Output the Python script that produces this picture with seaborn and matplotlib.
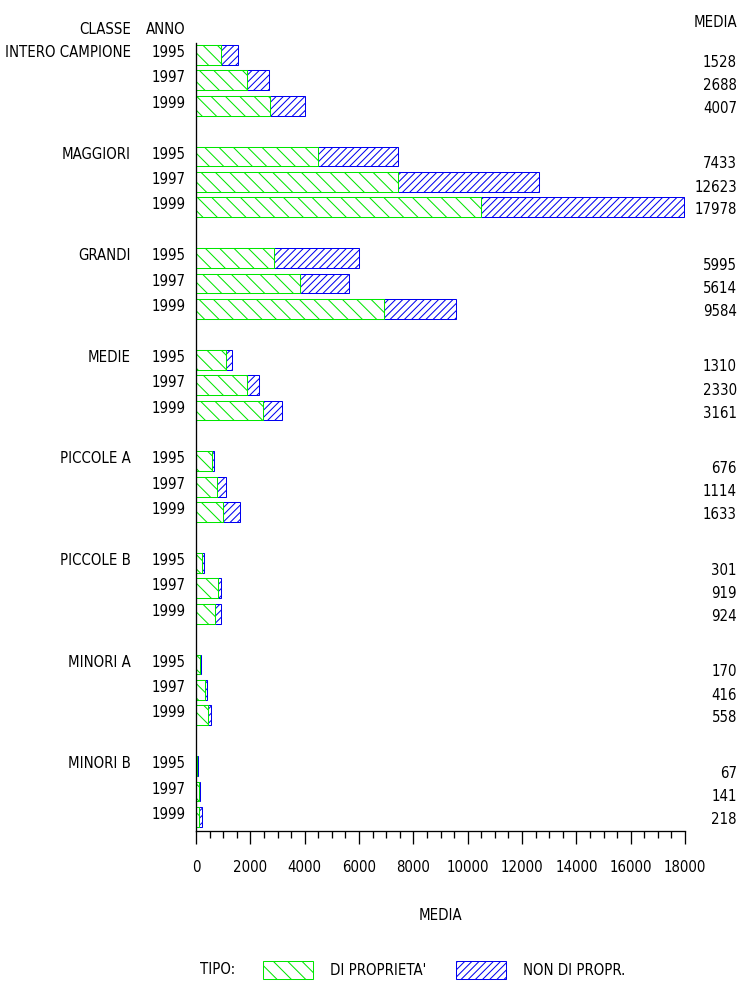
import numpy as np
import pandas as pd
import matplotlib
matplotlib.use('Agg')
import matplotlib.pyplot as plt
from matplotlib.ticker import MultipleLocator
import seaborn as sns

classes = ['INTERO CAMPIONE', 'MAGGIORI', 'GRANDI', 'MEDIE',
           'PICCOLE A', 'PICCOLE B', 'MINORI A', 'MINORI B']
years = ['1995', '1997', '1999']

# media totale (colonna MEDIA a destra)
media = [1528, 2688, 4007,
         7433, 12623, 17978,
         5995, 5614, 9584,
         1310, 2330, 3161,
         676, 1114, 1633,
         301, 919, 924,
         170, 416, 558,
         67, 141, 218]

# quota di proprieta' (circa)
proprieta = [920, 1870, 2710,
             4500, 7450, 10490,
             2860, 3810, 6930,
             1100, 1880, 2480,
             580, 760, 980,
             220, 800, 710,
             135, 330, 455,
             25, 98, 123]

GREEN = '#00e600'
BLUE = '#0000f0'
DPI = 86
FS = 12.5

sns.set_theme(style='white')
plt.rcParams['font.family'] = ['Liberation Sans Narrow', 'DejaVu Sans']
plt.rcParams['font.stretch'] = 'condensed'
plt.rcParams['text.color'] = 'black'
plt.rcParams['axes.labelcolor'] = 'black'
plt.rcParams['xtick.color'] = 'black'
plt.rcParams['hatch.linewidth'] = 0.85

df = pd.DataFrame({
    'classe': np.repeat(classes, len(years)),
    'anno': years * len(classes),
    'media': media,
    'proprieta': proprieta,
})
idx = np.arange(len(df))
df['pos'] = idx + idx // 3   # gap of one slot between classes

fig = plt.figure(figsize=(742 / DPI, 981 / DPI), dpi=DPI)
ax = fig.add_axes([196 / 742, 1 - 830.7 / 981, 489 / 742, (830.7 - 43) / 981])

# total bar (blue) then own share (green, white fill) on top
sns.barplot(data=df, x='media', y='pos', orient='h', native_scale=True,
            width=0.78, color='white', saturation=1, errorbar=None,
            edgecolor=BLUE, hatch='////', linewidth=0.85, ax=ax)
sns.barplot(data=df, x='proprieta', y='pos', orient='h', native_scale=True,
            width=0.78, color='white', saturation=1, errorbar=None,
            edgecolor=GREEN, hatch='\\\\', linewidth=0.85, ax=ax)

ax.set_xlim(0, 18000)
ax.set_ylim(30.54, -0.47)
ax.xaxis.set_major_locator(MultipleLocator(2000))
ax.xaxis.set_minor_locator(MultipleLocator(500))
ax.set_yticks([])
ax.set_ylabel('')
ax.tick_params(axis='x', which='major', direction='out', length=10.9, width=1.1,
               color='black', labelsize=FS, labelcolor='black', pad=14, bottom=True)
ax.tick_params(axis='x', which='minor', direction='out', length=5.9, width=1.1,
               color='black', bottom=True)
for s in ['top', 'right']:
    ax.spines[s].set_visible(False)
for s in ['left', 'bottom']:
    ax.spines[s].set_color('black')
    ax.spines[s].set_linewidth(1.1)

ax.set_xlabel('MEDIA', fontsize=FS, color='black')
ax.xaxis.set_label_coords(0.5, -0.108)
ax.xaxis.label.set_va('center')

yt = ax.get_yaxis_transform()
x_year = -10 / 489
x_class = -65 / 489
x_val = 541 / 489
val_dy = [0.28, 0.2, 0.1]

for i, row in df.iterrows():
    k = i % 3
    ax.text(x_year, row['pos'] - 0.1, row['anno'], ha='right', va='center',
            fontsize=FS, transform=yt)
    ax.text(x_val, row['pos'] + val_dy[k], str(row['media']), ha='right',
            va='center', fontsize=FS, transform=yt)
    if k == 0:
        ax.text(x_class, row['pos'] - 0.1, row['classe'], ha='right',
                va='center', fontsize=FS, transform=yt)

ax.text(x_class, -1.02, 'CLASSE', ha='right', va='center', fontsize=FS, transform=yt)
ax.text(x_year, -1.02, 'ANNO', ha='right', va='center', fontsize=FS, transform=yt)
ax.text(x_val, -1.26, 'MEDIA', ha='right', va='center', fontsize=FS, transform=yt)

# legend row at the bottom
fig.text(200 / 742, 1 - 970 / 981, 'TIPO:', ha='left', va='center', fontsize=FS)
handles = [ax.containers[1], ax.containers[0]]
fig.legend(handles, ["DI PROPRIETA'", 'NON DI PROPR.'], loc='center left',
           bbox_to_anchor=(263 / 742, 1 - 970 / 981), ncol=2, frameon=False,
           fontsize=FS, handlelength=3.35, handleheight=1.47, handletextpad=1.15,
           columnspacing=2.0, borderpad=0, borderaxespad=0)

fig.savefig('out.png', dpi=DPI)
